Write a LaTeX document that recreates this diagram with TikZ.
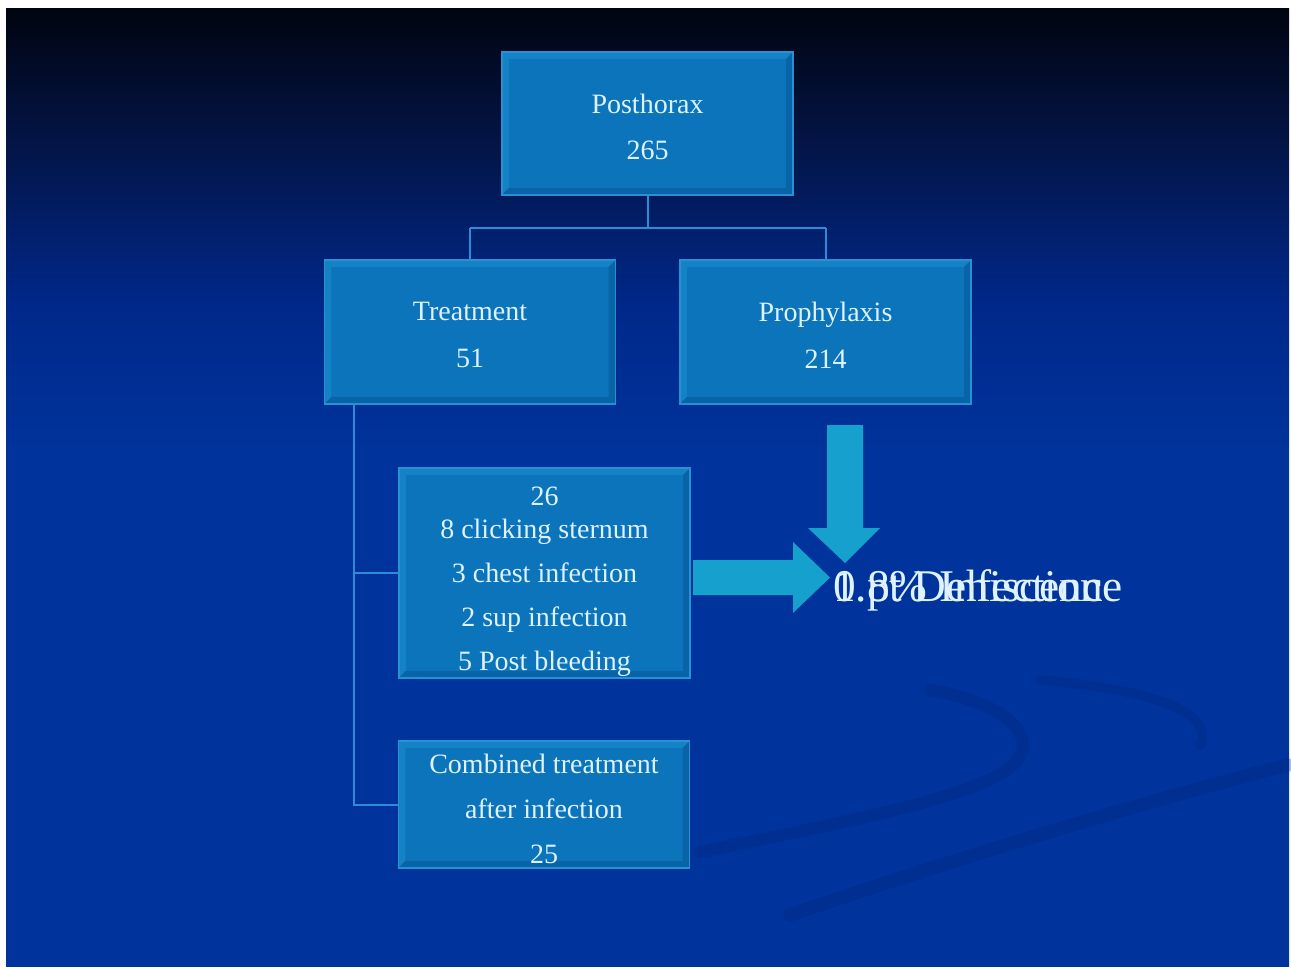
\documentclass[tikz,border=0pt]{standalone}
\usepackage{fontspec}
\setmainfont{Liberation Serif}
\usetikzlibrary{calc}
\definecolor{bgt}{RGB}{1,4,16}
\definecolor{bgq}{RGB}{3,18,62}
\definecolor{bgm}{RGB}{0,40,138}
\definecolor{bgb}{RGB}{0,51,155}
\definecolor{swoosh}{RGB}{0,38,125}
\definecolor{boxfill}{RGB}{11,116,186}
\definecolor{boxedge}{RGB}{38,146,212}
\definecolor{bevlight}{RGB}{22,130,198}
\definecolor{bevdark}{RGB}{8,100,166}
\definecolor{linecol}{RGB}{44,140,215}
\definecolor{arrowcol}{RGB}{22,160,206}
\definecolor{txt}{RGB}{222,242,255}
\pgfdeclareverticalshading{slidebg}{100bp}{color(0bp)=(bgb); color(25bp)=(bgb); color(52bp)=(bgb); color(59.5bp)=(bgm); color(69bp)=(bgq); color(75bp)=(bgt); color(100bp)=(bgt)}
\newcommand\bevelbox[1]{%
  \fill[bevlight] (#1.north west) -- (#1.north east) -- ($(#1.north east)+(-7,7)$) -- ($(#1.north west)+(7,7)$) -- cycle;
  \fill[bevlight] (#1.north west) -- ($(#1.north west)+(7,7)$) -- ($(#1.south west)+(7,-7)$) -- (#1.south west) -- cycle;
  \fill[bevdark] (#1.south west) -- ($(#1.south west)+(7,-7)$) -- ($(#1.south east)+(-7,-7)$) -- (#1.south east) -- cycle;
  \fill[bevdark] (#1.north east) -- ($(#1.north east)+(-7,7)$) -- ($(#1.south east)+(-7,-7)$) -- (#1.south east) -- cycle;
  \draw[boxedge, line width=1.2pt] (#1.north west) rectangle (#1.south east);}
\tikzset{
  box/.style={fill=boxfill, inner sep=0pt, outer sep=0pt, minimum width=218.5pt},
  boxtext/.style={text=txt, align=center, font=\fontsize{21}{35}\selectfont, inner sep=0pt},
  link/.style={draw=linecol, line width=1.5pt},
  bigarrow/.style={fill=arrowcol},
  result/.style={text=txt, font=\fontsize{34}{40}\selectfont, inner sep=0pt, anchor=base west}
}
\begin{document}
\begin{tikzpicture}[x=0.75pt, y=-0.75pt]
\useasboundingbox (0,0) rectangle (1291,968);
\fill[white] (0,0) rectangle (1291,968);
\shade[shading=slidebg] (6,8) rectangle (1289,966);
% faint swooshes
\begin{scope}[line cap=round, opacity=0.3]
\draw[swoosh, line width=9pt] (700,852) .. controls (880,815) and (1010,790) .. (1022,752) .. controls (1030,725) and (990,700) .. (930,690);
\draw[swoosh, line width=10pt] (790,915) .. controls (950,860) and (1150,800) .. (1288,765);
\draw[swoosh, line width=7pt] (1200,745) .. controls (1215,715) and (1160,690) .. (1040,680);
\end{scope}

\node[box, minimum height=107.25pt] (post) at (647.5,123.5) {};
\node[box, minimum height=108pt] (treat) at (470,332) {};
\node[box, minimum height=108pt] (proph) at (825.5,332) {};
\node[box, minimum height=157.5pt] (b26) at (544.5,573) {};
\node[box, minimum height=95.25pt] (comb) at (544,804.5) {};
\bevelbox{post}
\bevelbox{treat}
\bevelbox{proph}
\bevelbox{b26}
\bevelbox{comb}

\node[boxtext] (tpost) at (647.5,127) {Posthorax\\265};
\node[boxtext] (ttreat) at (470,335) {Treatment\\51};
\node[boxtext] (tproph) at (825.5,335) {Prophylaxis\\214};
\node[boxtext, font=\fontsize{21}{33}\selectfont] (t26) at (544.5,582) {26\\[-8pt]8 clicking sternum\\3 chest infection\\2 sup infection\\5 Post bleeding};
\node[boxtext, font=\fontsize{21}{33.75}\selectfont] (tcomb) at (544,808.5) {Combined treatment\\after infection\\25};

% connectors
\coordinate (split) at (647.5,228);
\draw[link] (post.south) -- (split);
\draw[link] (treat.north |- split) -- (proph.north |- split);
\draw[link] (treat.north |- split) -- (treat.north);
\draw[link] (proph.north |- split) -- (proph.north);
\coordinate (trunk) at (354,404);
\draw[link] (trunk) -- (354,804.5) -- (comb.west);
\draw[link] (354,573) -- (b26.west);

% big arrows
\fill[bigarrow] (693,560) -- (793,560) -- (793,542) -- (830,577.5) -- (793,613) -- (793,595) -- (693,595) -- cycle;
\fill[bigarrow] (827,425) -- (863,425) -- (863,528) -- (880,528) -- (845,563) -- (808,528) -- (827,528) -- cycle;

\node[result] (inf) at (833,601) {0.8\% Infection};
\node[result] (deh) at (833,601) {1 pt Dehiscence};
\end{tikzpicture}
\end{document}
